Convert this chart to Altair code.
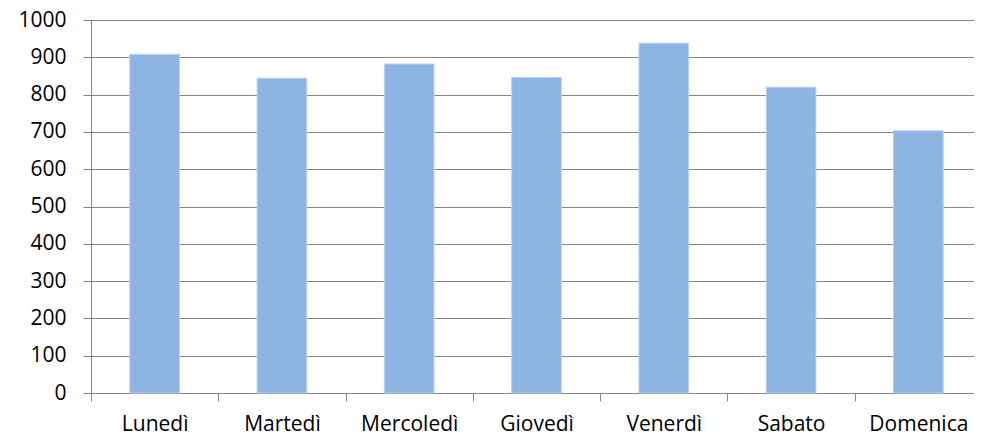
import altair as alt
import pandas as pd

days = ["Lunedì", "Martedì", "Mercoledì", "Giovedì", "Venerdì", "Sabato", "Domenica"]
values = [908, 844, 882, 846, 938, 820, 703]
y_ticks = [0, 100, 200, 300, 400, 500, 600, 700, 800, 900, 1000]

df = pd.DataFrame({"giorno": days, "valore": values})

FONT = "Open Sans"
GRAY = "#868686"

chart = alt.Chart(df).mark_bar(
    width=alt.RelativeBandSize(0.39),
    color="#8EB4E3",
    stroke="#B9D1EE",
    strokeWidth=1,
).encode(
    x=alt.X(
        "giorno:N",
        sort=days,
        title=None,
        scale=alt.Scale(paddingInner=0, paddingOuter=0),
        axis=alt.Axis(
            labelAngle=0,
            tickBand="extent",
            tickSize=8,
            tickColor=GRAY,
            domainColor=GRAY,
            labelFont=FONT,
            labelFontSize=21,
            labelColor="black",
            labelBaseline="alphabetic",
            labelPadding=29,
            grid=False,
        ),
    ),
    y=alt.Y(
        "valore:Q",
        title=None,
        scale=alt.Scale(domain=[0, 1000], nice=False),
        axis=alt.Axis(
            values=y_ticks,
            format="d",
            tickSize=8,
            tickColor=GRAY,
            domainColor=GRAY,
            gridColor=GRAY,
            gridWidth=1,
            labelFont=FONT,
            labelFontSize=21,
            labelColor="black",
            labelPadding=17,
        ),
    ),
).properties(
    width=891,
    height=373,
    autosize=alt.AutoSizeParams(type="none"),
    padding={"left": 83, "top": 12, "right": -8, "bottom": 43},
).configure(
    background="white"
).configure_view(
    stroke="transparent",
    strokeWidth=0,
)

chart.save("out.html", embed_options={"renderer": "svg", "actions": False})
